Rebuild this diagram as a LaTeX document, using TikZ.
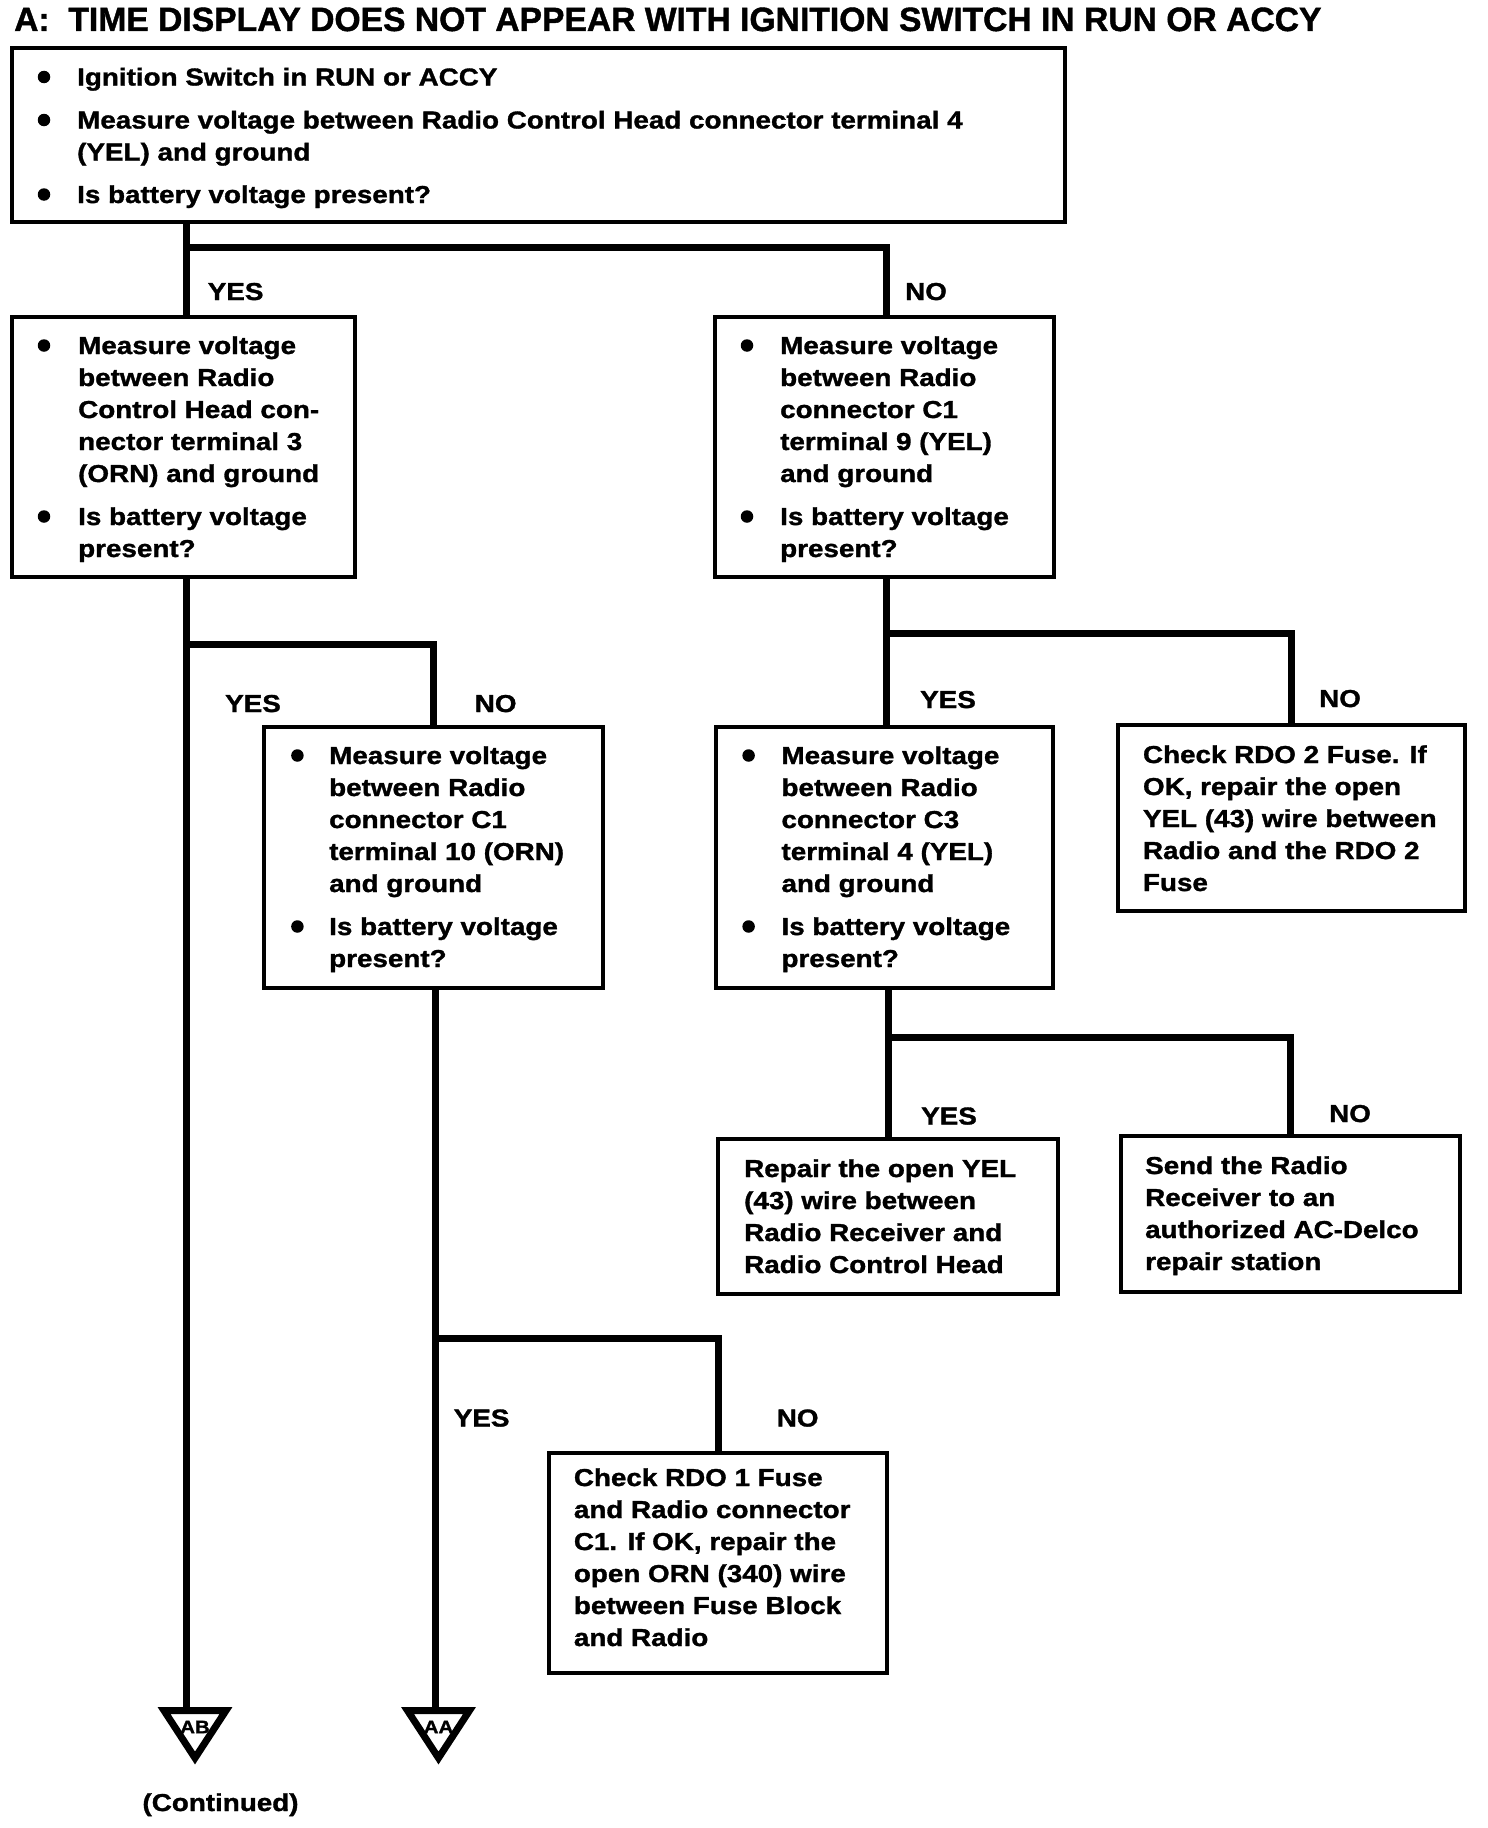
\documentclass[tikz,border=0pt]{standalone}
\usepackage{fontspec}
\usepackage{graphicx}
\newfontfamily\hb{Liberation Sans}[FakeStretch=1.135,FakeBold=1.3]
\usetikzlibrary{fit}
\newcommand\bitem[5]{%
  \node[dot] (#1d) at (#2,#4-8.5) {};
  \node[txt] (#1) at (#3,#4) {\begin{tabular}[t]{@{}l@{}}#5\end{tabular}};}
\newcommand\ptext[4]{%
  \node[txt] (#1) at (#2,#3) {\begin{tabular}[t]{@{}l@{}}#4\end{tabular}};}
\begin{document}
\begin{tikzpicture}[x=1pt,y=-1pt,
  box/.style={draw, line width=4pt, inner sep=0pt},
  conn/.style={draw, line width=7pt, line join=miter},
  txt/.style={inner sep=0pt, anchor=base west, font=\hb\bfseries\fontsize{24.5}{32}\selectfont},
  lbl/.style={txt},
  dot/.style={circle, fill, inner sep=0pt, minimum size=12.5pt},
  tri/.style={draw, line width=7pt, line join=miter},
  trilbl/.style={inner sep=0pt, font=\hb\bfseries\fontsize{18}{18}\selectfont},
]
\fill[white] (0,0) rectangle (1488,1828);
\useasboundingbox (0,0) rectangle (1488,1828);

% title
\node[inner sep=0pt, anchor=base west] (title) at (14,31)
  {\resizebox{1307pt}{23.5pt}{\hb\bfseries A:\ \ TIME DISPLAY DOES NOT APPEAR WITH IGNITION SWITCH IN RUN OR ACCY}};

% boxes
\node[box, fit={(11.7,47.8) (1064.7,221.6)}] (T) {};
\node[box, fit={(11.7,317.2) (354.5,577.2)}] (L1) {};
\node[box, fit={(714.8,317.2) (1054.2,577.2)}] (R1) {};
\node[box, fit={(263.5,726.5) (602.9,987.7)}] (L2) {};
\node[box, fit={(716,726.5) (1053,987.7)}] (R2) {};
\node[box, fit={(1118.3,725.3) (1464.6,910.7)}] (R2b) {};
\node[box, fit={(718.3,1139.3) (1057.6,1294.4)}] (R3) {};
\node[box, fit={(1120.6,1135.8) (1460,1292)}] (R3b) {};
\node[box, fit={(549.2,1453) (887,1673.4)}] (L3) {};

% texts
\bitem{Ta}{44}{77}{85.5}{Ignition Switch in RUN or ACCY}
\bitem{Tb}{44}{77}{128.5}{Measure voltage between Radio Control Head connector terminal 4\\(YEL) and ground}
\bitem{Tc}{44}{77}{203}{Is battery voltage present?}

\bitem{L1a}{44}{78}{354}{Measure voltage\\between Radio\\Control Head con-\\nector terminal 3\\(ORN) and ground}
\bitem{L1b}{44}{78}{525}{Is battery voltage\\present?}

\bitem{R1a}{747}{780}{354}{Measure voltage\\between Radio\\connector C1\\terminal 9 (YEL)\\and ground}
\bitem{R1b}{747}{780}{525}{Is battery voltage\\present?}

\bitem{L2a}{297.4}{329}{764}{Measure voltage\\between Radio\\connector C1\\terminal 10 (ORN)\\and ground}
\bitem{L2b}{297.4}{329}{935}{Is battery voltage\\present?}

\bitem{R2a}{748.6}{781.3}{764}{Measure voltage\\between Radio\\connector C3\\terminal 4 (YEL)\\and ground}
\bitem{R2c}{748.6}{781.3}{935}{Is battery voltage\\present?}

\ptext{R2bt}{1142.8}{763}{Check RDO 2 Fuse. If\\OK, repair the open\\YEL (43) wire between\\Radio and the RDO 2\\Fuse}
\ptext{R3t}{744}{1177}{Repair the open YEL\\(43) wire between\\Radio Receiver and\\Radio Control Head}
\ptext{R3bt}{1145}{1174}{Send the Radio\\Receiver to an\\authorized AC-Delco\\repair station}
\ptext{L3t}{573.7}{1486}{Check RDO 1 Fuse\\and Radio connector\\C1. If OK, repair the\\open ORN (340) wire\\between Fuse Block\\and Radio}

% labels
\node[lbl] (y1) at (207.6,300) {YES};
\node[lbl] (n1) at (905,300) {NO};
\node[lbl] (y2) at (225,712) {YES};
\node[lbl] (n2) at (474.6,712) {NO};
\node[lbl] (y3) at (920,708) {YES};
\node[lbl] (n3) at (1319,707) {NO};
\node[lbl] (y4) at (921,1124.5) {YES};
\node[lbl] (n4) at (1329,1122) {NO};
\node[lbl] (y5) at (453.6,1426.5) {YES};
\node[lbl] (n5) at (776.6,1426.5) {NO};
\node[lbl] (cont) at (142.3,1811) {(Continued)};

% off-page connectors
\draw[tri] (164,1710.5) -- (226,1710.5) -- (195,1758) -- cycle;
\coordinate (ABtop) at (186.6,1709);
\node[trilbl] (ABl) at (195,1727) {AB};
\draw[tri] (407.5,1710.5) -- (469.5,1710.5) -- (438.5,1758) -- cycle;
\coordinate (AAtop) at (435,1709);
\node[trilbl] (AAl) at (438.5,1727) {AA};

% junctions
\coordinate (j1) at (186.6,247);
\coordinate (j2) at (186.6,644);
\coordinate (j3) at (886,633.2);
\coordinate (j4) at (888.6,1037.8);
\coordinate (j5) at (435,1338.7);

% connectors
\draw[conn] (T.south -| j1) -- (L1.north -| j1);
\draw[conn] (j1) -| (R1.north -| j3);
\draw[conn] (L1.south -| j2) -- (ABtop);
\draw[conn] (j2) -| (L2.north);
\draw[conn] (R1.south -| j3) -- (R2.north -| j3);
\draw[conn] (j3) -| (R2b.north);
\draw[conn] (R2.south -| j4) -- (R3.north -| j4);
\draw[conn] (j4) -| (R3b.north);
\draw[conn] (L2.south -| j5) -- (AAtop);
\draw[conn] (j5) -| (L3.north);
\end{tikzpicture}
\end{document}
